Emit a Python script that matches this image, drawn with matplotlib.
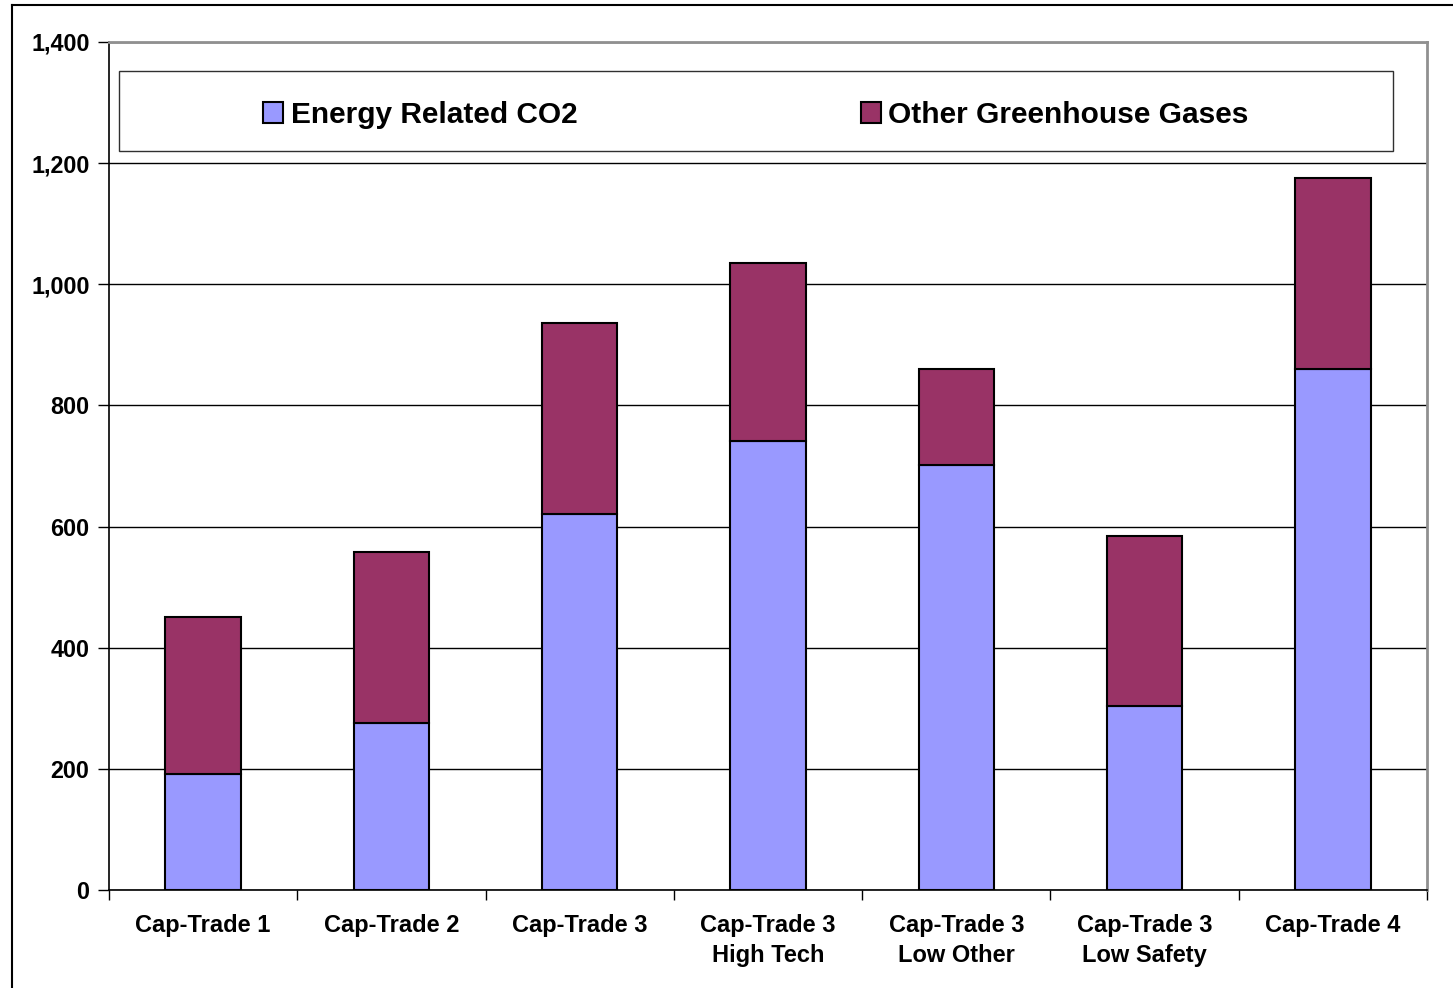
import numpy as np
import matplotlib
matplotlib.use('Agg')
import matplotlib.pyplot as plt
from matplotlib.lines import Line2D
from matplotlib.patches import Rectangle
from matplotlib.ticker import FuncFormatter, FixedLocator

plt.rcParams['font.family'] = ['Liberation Sans', 'DejaVu Sans']
plt.rcParams['font.weight'] = 'bold'

categories = ['Cap-Trade 1', 'Cap-Trade 2', 'Cap-Trade 3', 'Cap-Trade 3\nHigh Tech',
              'Cap-Trade 3\nLow Other', 'Cap-Trade 3\nLow Safety', 'Cap-Trade 4']
energy_co2 = [191, 276, 620, 741, 701, 304, 860]
other_ghg = [259, 282, 316, 294, 159, 280, 315]
series_names = ['Energy Related CO2', 'Other Greenhouse Gases']

fig = plt.figure(figsize=(14.53, 9.88), dpi=100)
ax = fig.add_axes([0.0750, 0.0992, 0.9071, 0.8583])

x = np.arange(len(categories))
w = 0.40
b1 = ax.bar(x, energy_co2, w, color='#9999FF', edgecolor='black', linewidth=1.5,
            label=series_names[0], zorder=3)
b2 = ax.bar(x, other_ghg, w, bottom=energy_co2, color='#993366', edgecolor='black',
            linewidth=1.5, label=series_names[1], zorder=3)

ax.set_xlim(-0.5, len(categories) - 0.5)
ax.set_ylim(0, 1400)
ax.set_yticks(np.arange(0, 1401, 200))
ax.yaxis.set_major_formatter(FuncFormatter(lambda v, p: f'{int(v):,}'))
ax.grid(axis='y', color='black', linewidth=1, zorder=0)

ax.set_xticks(x)
ax.set_xticklabels(categories, fontsize=17, fontweight='bold', linespacing=1.4)
ax.xaxis.set_minor_locator(FixedLocator(np.arange(-0.5, len(categories), 1.0)))
ax.tick_params(axis='x', which='major', length=0, pad=17)
ax.tick_params(axis='x', which='minor', length=7, width=1, direction='out')
ax.tick_params(axis='y', length=8, width=1, direction='out', pad=6, labelsize=16.8)
for lab in ax.get_yticklabels():
    lab.set_fontweight('bold')

for s in ['left', 'bottom']:
    ax.spines[s].set_color('black')
    ax.spines[s].set_linewidth(1.2)
for s in ['top', 'right']:
    ax.spines[s].set_color('#909090')
    ax.spines[s].set_linewidth(2)

# legend box
ax.add_patch(Rectangle((0.0076, 0.8715), 0.9666, 0.0943, transform=ax.transAxes,
                       facecolor='white', edgecolor='#303030', linewidth=1, zorder=4))
leg = ax.legend(loc='center', bbox_to_anchor=(0.4909, 0.9140), ncol=2, frameon=False,
                prop={'size': 21.5, 'weight': 'bold'}, handlelength=0.67,
                handleheight=0.67, handletextpad=0.25, columnspacing=9.5)
leg.set_zorder(5)

# outer chart frame
fig.add_artist(Line2D([12 / 1453, 12 / 1453], [0, 1 - 5 / 988], color='black', linewidth=1.5))
fig.add_artist(Line2D([12 / 1453, 1], [1 - 5 / 988, 1 - 5 / 988], color='black', linewidth=1.5))

fig.savefig('out.png', dpi=100)
